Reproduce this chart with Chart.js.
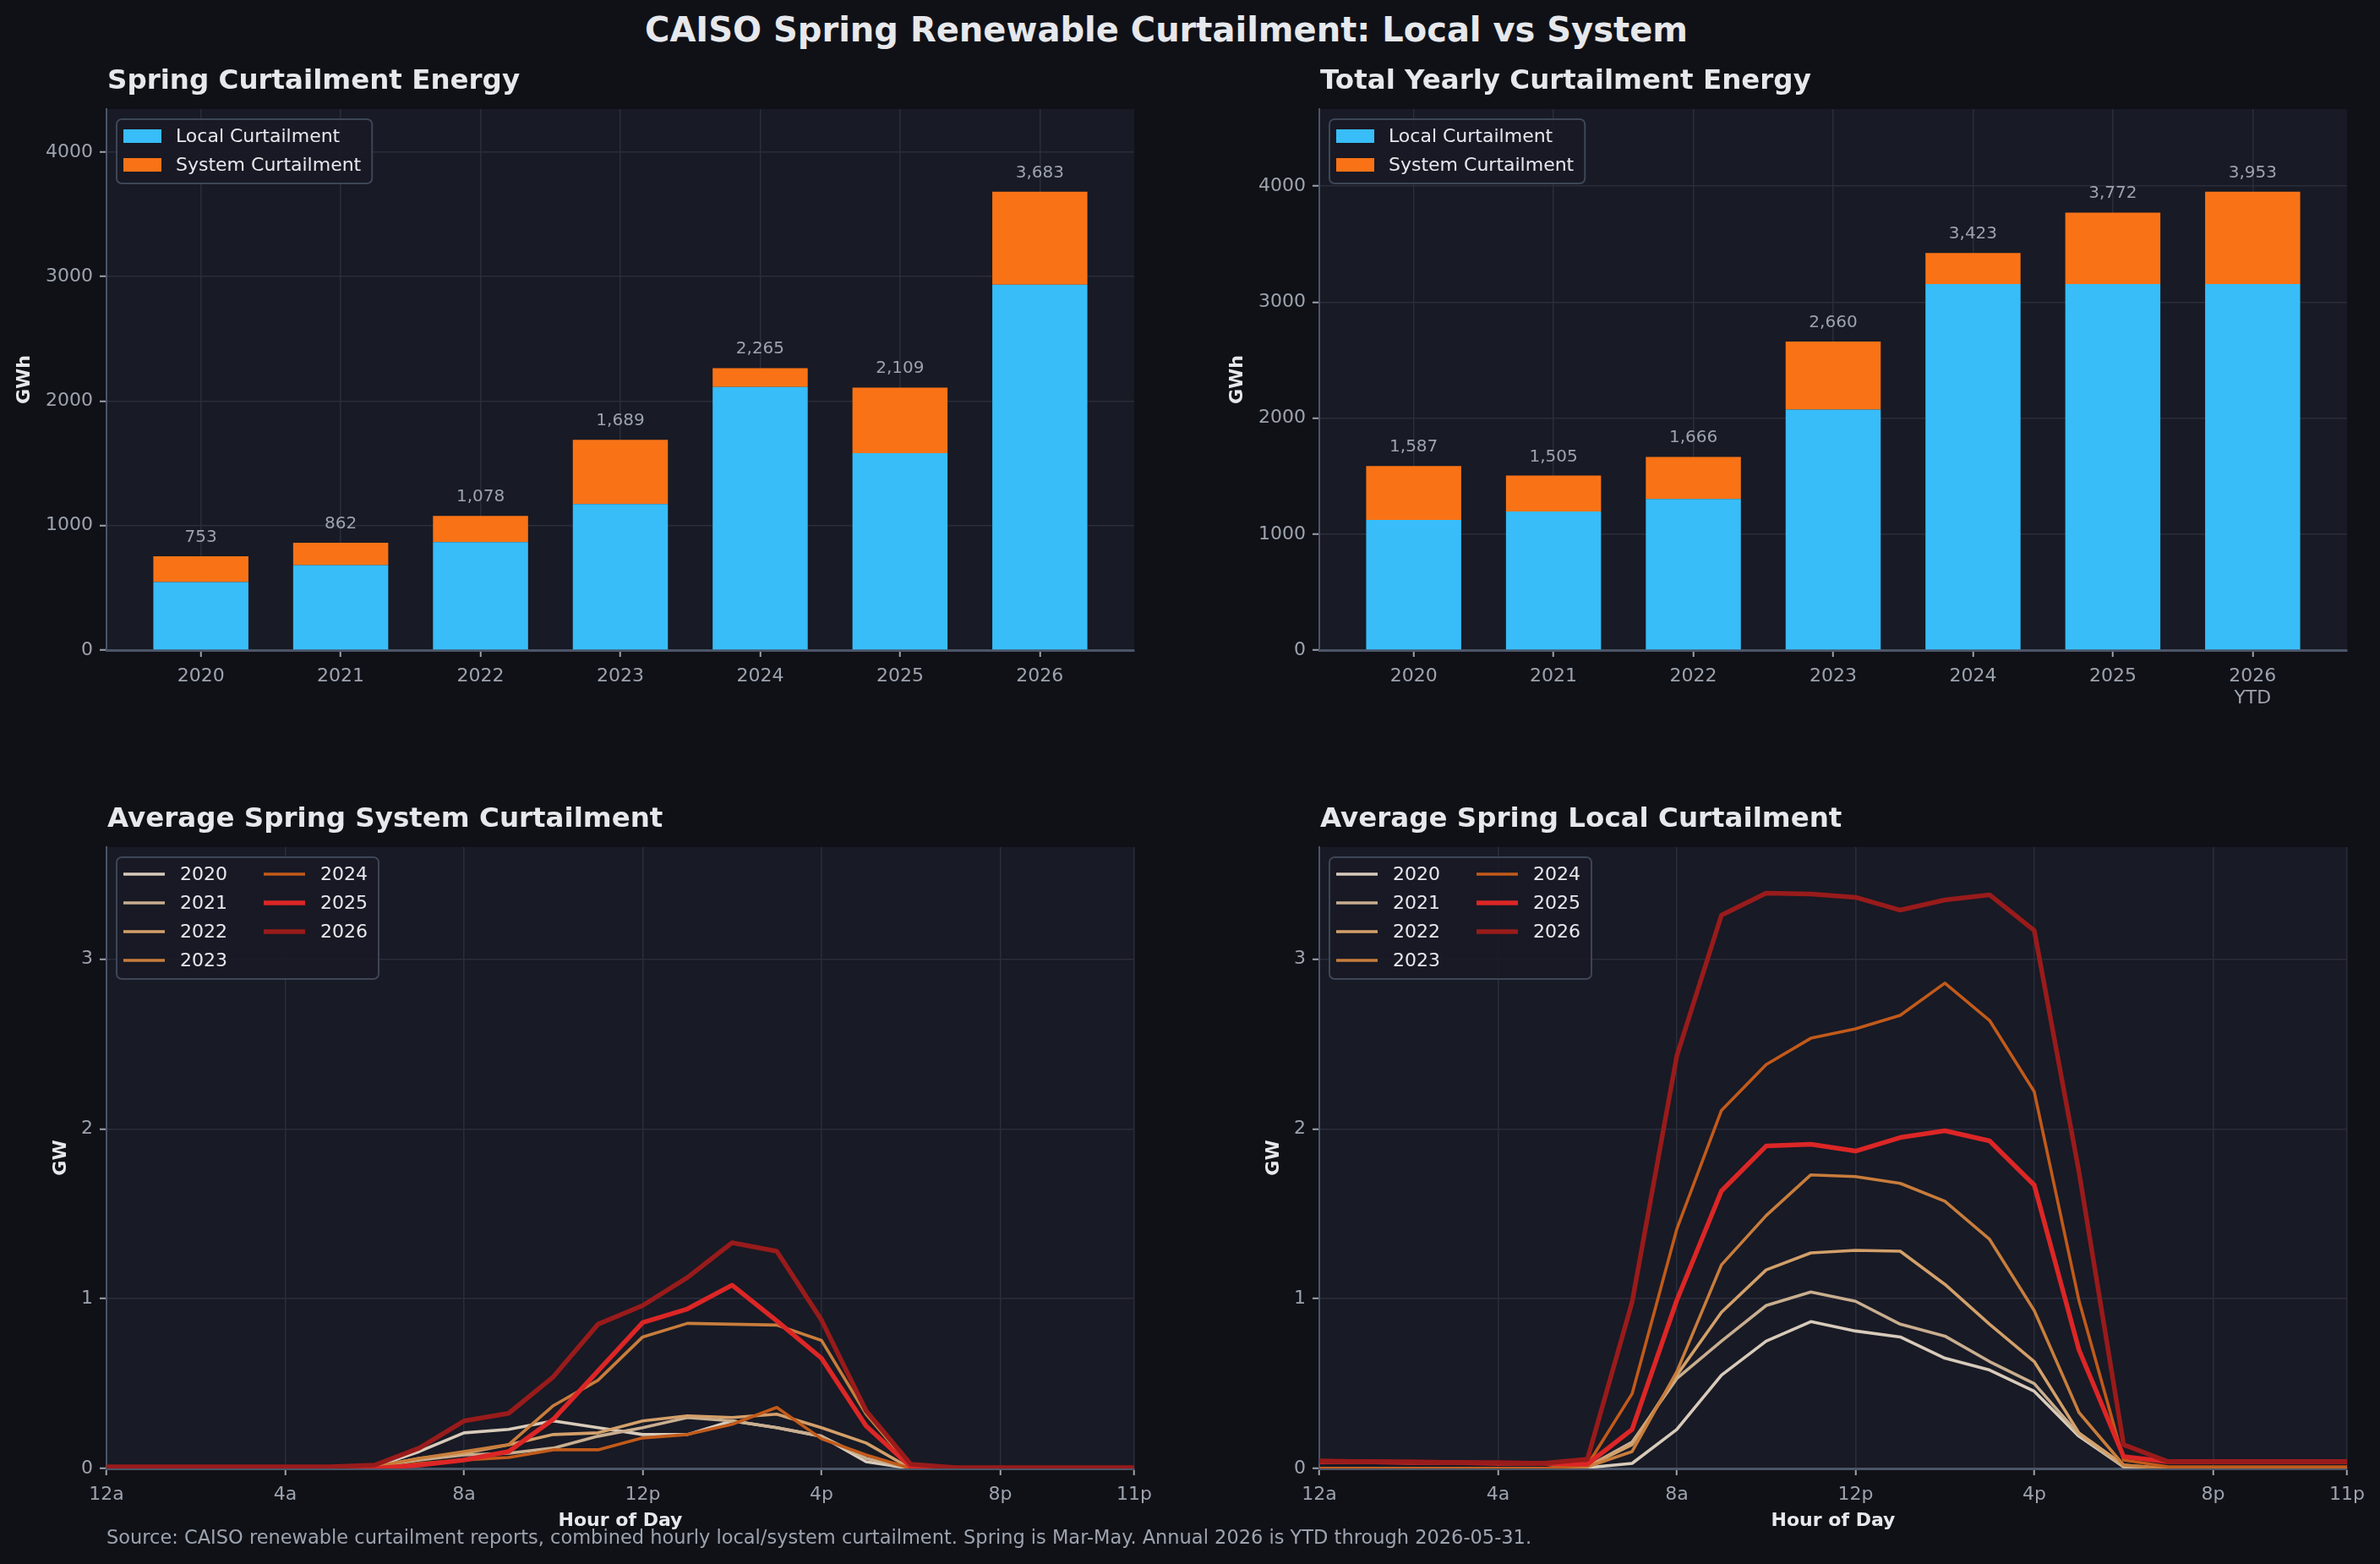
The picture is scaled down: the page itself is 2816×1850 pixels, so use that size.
<!DOCTYPE html>
<html>
<head>
<meta charset="utf-8">
<script src="https://cdn.jsdelivr.net/npm/chart.js@4.4.1/dist/chart.umd.min.js"></script>
<style>
  html, body { margin: 0; padding: 0; background: #101116; }
  body { width: 2816px; height: 1850px; position: relative; overflow: hidden; font-family: "DejaVu Sans", sans-serif; }
  canvas { position: absolute; }
  #title { position: absolute; left: 0; top: 12px; width: 2760px; text-align: center; font-weight: bold; font-size: 40px; color: #e6e8ec; }
  #source { position: absolute; left: 126px; top: 1805px; font-size: 22.5px; color: #9ca3af; white-space: nowrap; }
</style>
</head>
<body>
<div id="title">CAISO Spring Renewable Curtailment: Local vs System</div>
<canvas id="chart-spring"></canvas>
<canvas id="chart-yearly"></canvas>
<canvas id="chart-system"></canvas>
<canvas id="chart-local"></canvas>
<div id="source">Source: CAISO renewable curtailment reports, combined hourly local/system curtailment. Spring is Mar-May. Annual 2026 is YTD through 2026-05-31.</div>

<script>
// --- data (GWh) ---
const years = ["2020", "2021", "2022", "2023", "2024", "2025", "2026"];
const yearlyLabels = ["2020", "2021", "2022", "2023", "2024", "2025", ["2026", "YTD"]];
const springLocal = [546, 682, 868, 1173, 2114, 1582, 2936];
const springSystem = [207, 180, 210, 516, 151, 527, 747];
const yearlyLocal = [1122, 1195, 1303, 2073, 3156, 3156, 3156];
const yearlySystem = [465, 310, 363, 587, 267, 616, 797];
const energyTicks = [0, 1000, 2000, 3000, 4000];

// --- hourly averages (GW) ---
const hours = [0, 1, 2, 3, 4, 5, 6, 7, 8, 9, 10, 11, 12, 13, 14, 15, 16, 17, 18, 19, 20, 21, 22, 23];
const hourTicks = [0, 4, 8, 12, 16, 20, 23];
const hourTickLabels = ["12a", "4a", "8a", "12p", "4p", "8p", "11p"];
const powerTicks = [0, 1, 2, 3];

const systemByYear = {
  2020: [0, 0, 0, 0, 0, 0, 0.01, 0.1, 0.21, 0.23, 0.28, 0.24, 0.2, 0.2, 0.28, 0.24, 0.19, 0.04, 0, 0, 0, 0, 0, 0],
  2021: [0, 0, 0, 0, 0, 0, 0.01, 0.05, 0.08, 0.09, 0.12, 0.19, 0.24, 0.3, 0.28, 0.24, 0.19, 0.06, 0, 0, 0, 0, 0, 0],
  2022: [0, 0, 0, 0, 0, 0, 0.01, 0.06, 0.09, 0.14, 0.2, 0.21, 0.28, 0.31, 0.3, 0.32, 0.24, 0.15, 0, 0, 0, 0, 0, 0],
  2023: [0, 0, 0, 0, 0, 0, 0.01, 0.06, 0.1, 0.14, 0.37, 0.52, 0.775, 0.855, 0.85, 0.845, 0.755, 0.32, 0.01, 0, 0, 0, 0, 0],
  2024: [0, 0, 0, 0, 0, 0, 0, 0.03, 0.05, 0.065, 0.11, 0.11, 0.18, 0.2, 0.26, 0.36, 0.175, 0.08, 0, 0, 0, 0, 0, 0],
  2025: [0.005, 0.005, 0.005, 0.005, 0.005, 0.005, 0, 0.02, 0.05, 0.1, 0.29, 0.575, 0.86, 0.94, 1.08, 0.87, 0.65, 0.25, 0.01, 0, 0, 0, 0, 0],
  2026: [0.01, 0.01, 0.01, 0.01, 0.01, 0.01, 0.02, 0.12, 0.28, 0.325, 0.54, 0.85, 0.96, 1.125, 1.33, 1.28, 0.875, 0.34, 0.025, 0.005, 0.005, 0.005, 0.005, 0.005],
};

const localByYear = {
  2020: [0, 0, 0, 0, 0, 0, 0.005, 0.03, 0.23, 0.55, 0.75, 0.865, 0.81, 0.775, 0.65, 0.58, 0.455, 0.19, 0.01, 0, 0, 0, 0, 0],
  2021: [0, 0, 0, 0, 0, 0, 0.01, 0.155, 0.53, 0.75, 0.96, 1.04, 0.985, 0.85, 0.78, 0.63, 0.5, 0.2, 0.01, 0, 0, 0, 0, 0],
  2022: [0, 0, 0, 0, 0, 0, 0.01, 0.14, 0.55, 0.92, 1.17, 1.27, 1.285, 1.28, 1.085, 0.85, 0.63, 0.21, 0.02, 0, 0, 0, 0, 0],
  2023: [0, 0, 0, 0, 0, 0, 0.01, 0.1, 0.57, 1.2, 1.49, 1.73, 1.72, 1.68, 1.575, 1.35, 0.93, 0.33, 0.02, 0, 0, 0, 0, 0],
  2024: [0, 0, 0, 0, 0, 0, 0.02, 0.44, 1.41, 2.11, 2.38, 2.535, 2.59, 2.67, 2.86, 2.64, 2.22, 0.99, 0.05, 0.01, 0.01, 0.01, 0.01, 0.01],
  2025: [0.04, 0.04, 0.035, 0.035, 0.03, 0.03, 0.025, 0.23, 0.99, 1.635, 1.9, 1.91, 1.87, 1.95, 1.99, 1.93, 1.67, 0.7, 0.07, 0.04, 0.04, 0.04, 0.04, 0.04],
  2026: [0.045, 0.04, 0.04, 0.035, 0.035, 0.03, 0.055, 0.98, 2.43, 3.26, 3.39, 3.385, 3.365, 3.29, 3.35, 3.38, 3.17, 1.75, 0.14, 0.04, 0.04, 0.04, 0.04, 0.04],
};

// --- styles ---
const FONT = "DejaVu Sans";
const PLOT_BG = "#181a25";
const GRID = "#2a2d3a";
const SPINE = "#4b5568";
const TEXT = "#e6e8ec";
const MUTED = "#9ca3af";
const LOCAL_COLOR = "#38bdf8";
const SYSTEM_COLOR = "#f97316";

const yearColors = {
  2020: "#d8cbbb",
  2021: "#c9ae8f",
  2022: "#d3a06a",
  2023: "#c87d3c",
  2024: "#c25a1a",
  2025: "#dc2626",
  2026: "#991b1b",
};
const thickYears = ["2025", "2026"];

Chart.defaults.font.family = FONT;
Chart.defaults.color = MUTED;

// --- plugins ---
const plotBackground = {
  id: "plotBackground",
  beforeDraw(chart) {
    const { ctx, chartArea: a } = chart;
    ctx.save();
    ctx.fillStyle = PLOT_BG;
    ctx.fillRect(a.left, a.top, a.right - a.left, a.bottom - a.top);
    ctx.restore();
  },
};

const panelTitle = {
  id: "panelTitle",
  afterDraw(chart, args, opts) {
    const { ctx, chartArea } = chart;
    ctx.save();
    ctx.font = `bold 32.5px "${FONT}"`;
    ctx.fillStyle = TEXT;
    ctx.textBaseline = "alphabetic";
    ctx.fillText(opts.text, chartArea.left + 1, chartArea.top - 24);
    ctx.restore();
  },
};

const barTotals = {
  id: "barTotals",
  afterDatasetsDraw(chart) {
    const { ctx, scales } = chart;
    const sets = chart.data.datasets;
    ctx.save();
    ctx.font = `20px "${FONT}"`;
    ctx.fillStyle = MUTED;
    ctx.textAlign = "center";
    ctx.textBaseline = "alphabetic";
    sets[0].data.forEach((point, i) => {
      const total = sets.reduce((sum, ds) => sum + ds.data[i].y, 0);
      ctx.fillText(
        total.toLocaleString("en-US"),
        scales.x.getPixelForValue(point.x),
        scales.y.getPixelForValue(total) - 17
      );
    });
    ctx.restore();
  },
};

// legend drawn inside the plot, top-left, filled column by column
const insideLegend = {
  id: "insideLegend",
  afterDraw(chart, args, opts) {
    const { ctx, chartArea: a } = chart;
    const items = chart.data.datasets.map((ds) => ({
      label: ds.label,
      color: opts.kind === "patch" ? ds.backgroundColor : ds.borderColor,
      width: ds.borderWidth,
    }));
    const cols = opts.columns || 1;
    const rows = Math.ceil(items.length / cols);
    const rowH = 34;
    const sampleW = opts.kind === "patch" ? 45 : 49;
    const textGap = opts.kind === "patch" ? 17 : 18;
    ctx.save();
    ctx.font = `22px "${FONT}"`;
    const colWidths = [];
    for (let c = 0; c < cols; c++) {
      const texts = items.slice(c * rows, (c + 1) * rows).map((it) => ctx.measureText(it.label).width);
      colWidths.push(sampleW + textGap + Math.max(...texts));
    }
    const colGap = 43;
    const boxL = a.left + 12;
    const boxT = a.top + 12;
    const boxW = 8 + colWidths.reduce((s, w) => s + w, 0) + colGap * (cols - 1) + 13;
    const boxH = rows * rowH + 8;

    ctx.beginPath();
    ctx.roundRect(boxL, boxT, boxW, boxH, 6);
    ctx.fillStyle = "rgba(24,26,37,0.9)";
    ctx.fill();
    ctx.lineWidth = 2;
    ctx.strokeStyle = "#3d4657";
    ctx.stroke();

    ctx.textBaseline = "middle";
    items.forEach((it, i) => {
      const c = Math.floor(i / rows);
      const r = i % rows;
      let x = boxL + 8;
      for (let k = 0; k < c; k++) x += colWidths[k] + colGap;
      const y = boxT + 20 + r * rowH;
      if (opts.kind === "patch") {
        ctx.fillStyle = it.color;
        ctx.fillRect(x, y - 8, sampleW, 16);
      } else {
        ctx.strokeStyle = it.color;
        ctx.lineWidth = it.width;
        ctx.beginPath();
        ctx.moveTo(x, y);
        ctx.lineTo(x + sampleW, y);
        ctx.stroke();
      }
      ctx.fillStyle = TEXT;
      ctx.fillText(it.label, x + sampleW + textGap, y + 1);
    });
    ctx.restore();
  },
};

// --- helpers ---
function setupCanvas(id, left, top, width, height) {
  const canvas = document.getElementById(id);
  canvas.width = width;
  canvas.height = height;
  canvas.style.left = `${left}px`;
  canvas.style.top = `${top}px`;
  canvas.style.width = `${width}px`;
  canvas.style.height = `${height}px`;
  return canvas;
}

function valueAxis(max, tickValues, title, titlePad) {
  return {
    min: 0,
    max,
    border: { color: SPINE, width: 2 },
    grid: { color: GRID, lineWidth: 1.5, tickColor: MUTED, tickLength: 8, tickWidth: 2 },
    afterBuildTicks(scale) { scale.ticks = tickValues.map((value) => ({ value })); },
    ticks: { color: MUTED, font: { size: 22 }, padding: 8, callback: (v) => String(v) },
    title: { display: true, text: title, color: TEXT, font: { size: 22, weight: "bold" }, padding: { top: titlePad, bottom: 0 } },
    afterFit(scale) { scale.width = 126; },
  };
}

function indexAxis(min, max, tickValues, tickLabels, title) {
  return {
    type: "linear",
    min,
    max,
    offset: false,
    border: { color: SPINE, width: 3 },
    grid: { offset: false, color: GRID, lineWidth: 1.5, tickColor: MUTED, tickLength: 8, tickWidth: 2 },
    afterBuildTicks(scale) { scale.ticks = tickValues.map((value) => ({ value })); },
    ticks: { color: MUTED, font: { size: 22 }, padding: 10, autoSkip: false, maxRotation: 0, callback: (v, i) => tickLabels[i] },
    title: title
      ? { display: true, text: title, color: TEXT, font: { size: 22, weight: "bold" }, padding: { top: 0, bottom: 10 } }
      : { display: false },
    afterFit(scale) { scale.height = 85; },
  };
}

function toPoints(xs, ys) {
  return ys.map((y, i) => ({ x: xs[i], y }));
}

function renderBarPanel(id, left, top, width, title, labels, local, system) {
  const canvas = setupCanvas(id, left, top, width, 794);
  const positions = years.map((_, i) => i);
  const maxTotal = Math.max(...local.map((v, i) => v + system[i]));
  return new Chart(canvas, {
    type: "bar",
    data: {
      datasets: [
        { label: "Local Curtailment", data: toPoints(positions, local), backgroundColor: LOCAL_COLOR },
        { label: "System Curtailment", data: toPoints(positions, system), backgroundColor: SYSTEM_COLOR },
      ],
    },
    options: {
      responsive: false,
      animation: false,
      devicePixelRatio: 1,
      layout: { padding: { top: 69, right: width - 1342, bottom: 0, left: 0 } },
      datasets: { bar: { grouped: false, barPercentage: 0.68, categoryPercentage: 1, borderWidth: 0 } },
      plugins: {
        legend: { display: false },
        tooltip: { enabled: false },
        panelTitle: { text: title },
        insideLegend: { kind: "patch", columns: 1 },
      },
      scales: {
        x: indexAxis(-0.675, 6.675, positions, labels, null),
        y: { ...valueAxis(maxTotal * 1.18, energyTicks, "GWh", 16), stacked: true },
      },
    },
    plugins: [plotBackground, barTotals, panelTitle, insideLegend],
  });
}

function renderLinePanel(id, left, top, width, title, byYear, yMax) {
  const canvas = setupCanvas(id, left, top, width, 922);
  const n = years.length;
  const datasets = years.map((year, i) => ({
    label: year,
    data: toPoints(hours, byYear[year]),
    borderColor: yearColors[year],
    borderWidth: thickYears.includes(year) ? 5.5 : 3.6,
    pointRadius: 0,
    tension: 0,
    borderJoinStyle: "round",
    borderCapStyle: "round",
    order: n - i,
  }));
  return new Chart(canvas, {
    type: "line",
    data: { datasets },
    options: {
      responsive: false,
      animation: false,
      devicePixelRatio: 1,
      layout: { padding: { top: 102, right: width - 1342, bottom: 0, left: 0 } },
      plugins: {
        legend: { display: false },
        tooltip: { enabled: false },
        panelTitle: { text: title },
        insideLegend: { kind: "line", columns: 2 },
      },
      scales: {
        x: indexAxis(0, 23, hourTicks, hourTickLabels, "Hour of Day"),
        y: valueAxis(yMax, powerTicks, "GW", 59),
      },
    },
    plugins: [plotBackground, panelTitle, insideLegend],
  });
}

document.addEventListener("DOMContentLoaded", () => {
  renderBarPanel("chart-spring", 0, 60, 1408, "Spring Curtailment Energy", years, springLocal, springSystem);
  renderBarPanel("chart-yearly", 1435, 60, 1381, "Total Yearly Curtailment Energy", yearlyLabels, yearlyLocal, yearlySystem);

  const peak = Math.max(...years.map((y) => Math.max(...localByYear[y], ...systemByYear[y])));
  const yMax = peak * 1.08;
  renderLinePanel("chart-system", 0, 900, 1408, "Average Spring System Curtailment", systemByYear, yMax);
  renderLinePanel("chart-local", 1435, 900, 1381, "Average Spring Local Curtailment", localByYear, yMax);
});
</script>
</body>
</html>
